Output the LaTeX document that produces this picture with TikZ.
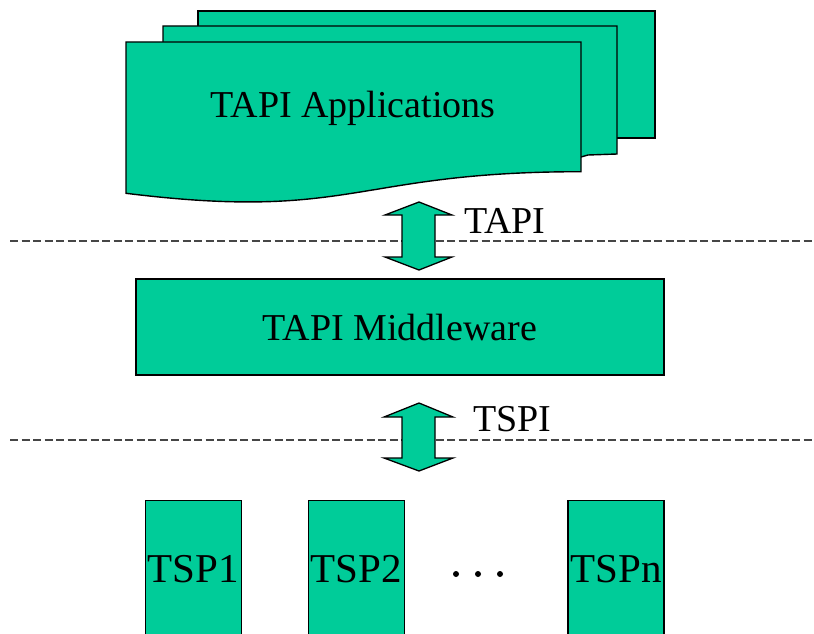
\documentclass[tikz,border=0pt]{standalone}
\usepackage{fontspec}
\setmainfont{Liberation Serif}
\definecolor{tgreen}{RGB}{0,204,153}
\definecolor{dashgray}{RGB}{70,70,70}
\begin{document}
\begin{tikzpicture}[x=1pt,y=-1pt,
  box/.style={fill=tgreen,draw=black,line width=1.4pt},
  arrowshape/.style={fill=tgreen,draw=black,line width=1.3pt,line join=miter},
  dashline/.style={draw=dashgray,line width=1.8pt,dash pattern=on 8pt off 3.5pt},
  bigtext/.style={font=\fontsize{38}{40}\selectfont,text=black},
  tsptext/.style={font=\fontsize{41}{43}\selectfont,text=black},
  tspbox/.style={box,minimum width=96pt,minimum height=150pt,inner sep=0pt,anchor=north}]
\useasboundingbox (0,0) rectangle (814,634);
\clip (0,0) rectangle (814,634);

% stacked documents
\draw[box] (198,11) rectangle (655,138);
\draw[box] (163,26) -- (617,26) -- (617,154) -- (588,155) -- (581,157) -- (163,157) -- cycle;
\draw[box] (126,42) -- (581,42) -- (581,171.7)
  .. controls (353.5,171.7) and (353.5,221.5) .. (126,193.3) -- cycle;
\node[bigtext] (apps) at (353,108) {TAPI Applications};

% dashed separators
\coordinate (d1a) at (10,241);
\coordinate (d1b) at (814,241);
\coordinate (d2a) at (10,440);
\coordinate (d2b) at (814,440);
\draw[dashline] (d1a) -- (d1b);
\draw[dashline] (d2a) -- (d2b);

% TAPI double arrow
\draw[arrowshape] (419,202) -- (452,215) -- (435,215) -- (435,257) -- (452,257)
  -- (419,270) -- (385,257) -- (402,257) -- (402,215) -- (385,215) -- cycle;
\node[bigtext,anchor=base west,inner sep=0pt] (tapi) at (464,233) {TAPI};

% middleware
\node[box,bigtext,minimum width=528pt,minimum height=96pt,inner sep=0pt] (mid) at (400,327) {TAPI Middleware};

% TSPI double arrow
\draw[arrowshape] (419,403) -- (453,417) -- (435,417) -- (435,458) -- (453,458)
  -- (419,471) -- (384,458) -- (402,458) -- (402,417) -- (384,417) -- cycle;
\node[bigtext,anchor=base west,inner sep=0pt] (tspi) at (473,431) {TSPI};

% TSP boxes
\node[tspbox] (tsp1) at (193.5,500) {};
\node[tspbox] (tsp2) at (356.5,500) {};
\node[tspbox] (tspn) at (616,500) {};
\node[tsptext] at (193.5,569) {TSP1};
\node[tsptext] at (356.5,569) {TSP2};
\node[tsptext] at (616,569) {TSPn};

% ellipsis dots
\fill (456,574) circle (3pt);
\fill (478,574) circle (3pt);
\fill (500,574) circle (3pt);
\end{tikzpicture}
\end{document}
